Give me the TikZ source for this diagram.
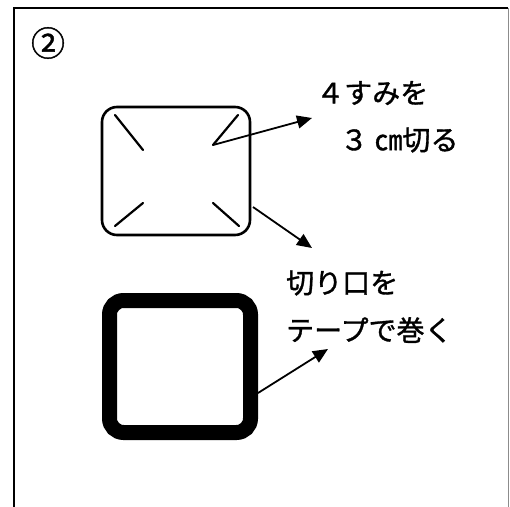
\documentclass[tikz,border=0pt]{standalone}
\usepackage{fontspec}
\newfontfamily\jp[FakeBold=1.2]{Noto Sans CJK JP}
\usetikzlibrary{arrows.meta}
\begin{document}
\begin{tikzpicture}[x=1pt,y=-1pt,
  thinline/.style={line width=2.2pt,line cap=round},
  arrowline/.style={line width=1.8pt,-{Triangle[length=15pt,width=13pt]}},
  label/.style={font=\jp\fontsize{28}{28}\selectfont,inner sep=0pt,anchor=west},
  frameline/.style={line width=2.4pt}]
\useasboundingbox (0,0) rectangle (510,506);
% frame
\draw[frameline] (14,520) -- (14,8) -- (508,8);
\draw[line width=1pt,black!45] (508,8) -- (508,520);
% circled number
\node[font=\jp\fontsize{34}{34}\selectfont,inner sep=0pt] (num) at (48,43) {②};
% top rectangle
\draw[line width=2.6pt,rounded corners=15pt] (102,107) rectangle (250,235);
\coordinate (tl1) at (115,115); \coordinate (tl2) at (143,150);
\coordinate (tr1) at (238,115); \coordinate (tr2) at (213,145);
\coordinate (bl1) at (115,226); \coordinate (bl2) at (143,203);
\coordinate (br1) at (239,226); \coordinate (br2) at (213,203);
\draw[thinline] (tl1) -- (tl2);
\draw[thinline] (tr1) -- (tr2);
\draw[thinline] (bl1) -- (bl2);
\draw[thinline] (br1) -- (br2);
% bottom rectangle (taped)
\draw[line width=15pt,rounded corners=14pt] (109.5,300.5) rectangle (250.5,432.5);
% labels
\node[label] (t1) at (316,93) {４すみを};
\node[label] (t2) at (340,140) {３ ㎝切る};
\node[label] (t3) at (286,283) {切り口を};
\node[label] (t4) at (286,330) {テープで巻く};
% arrows
\coordinate (a1s) at (213,145); \coordinate (a1e) at (312,118);
\coordinate (a2s) at (253,207); \coordinate (a2e) at (312,248);
\coordinate (a3s) at (258,393); \coordinate (a3e) at (328,349);
\draw[arrowline] (a1s) -- (a1e);
\draw[arrowline] (a2s) -- (a2e);
\draw[arrowline] (a3s) -- (a3e);
\end{tikzpicture}
\end{document}
